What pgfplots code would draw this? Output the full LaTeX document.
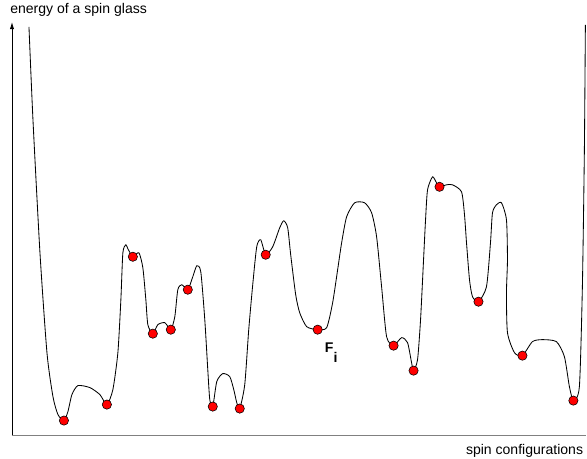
\documentclass[border=0pt]{standalone}
\usepackage{pgfplots}
\pgfplotsset{compat=1.18}
\usepackage{fontspec}
\setmainfont{Liberation Sans}
\usetikzlibrary{arrows.meta}

% energy landscape, traced in picture pixels (y grows downwards)
\pgfplotstableread{
x y
29 27
33 120
40 253
47 353
53 397
58 415
64 421
68 412
72 395
78 386
90 388
100 395
107 405
113 390
118 353
121 300
123 253
126 245
128 249
133 257
139 253
143 268
146 300
148 325
153 334
158 325
165 323
171 330
175 317
178 290
182 285
188 290
193 277
197 266
201 272
205 320
208 370
210 400
213 407
217 382
223 374
230 377
234 390
237 403
240 409
245 385
249 330
253 285
257 247
261 240
266 255
273 247
280 228
284 221
288 228
291 255
296 295
300 313
307 327
318 330
327 328
333 303
338 270
342 243
347 217
355 203
365 203
372 213
377 237
382 287
387 337
394 346
402 338
408 343
412 363
414 371
418 360
421 320
424 260
426 220
428 190
433 177
437 183
440 187
447 185
453 185
462 192
465 215
467 243
470 280
473 297
479 302
487 287
491 243
493 213
497 205
502 203
507 220
508 260
507 293
508 333
515 353
523 356
533 342
543 340
557 342
565 357
570 387
574 401
580 387
583 287
585 150
586 25
}\curve

% local minima
\pgfplotstableread{
x y
64 421
107 405
133 257
153 334
171 330
188 290
213 407
240 409
266 255
318 330
394 346
414 371
440 187
479 302
523 356
574 401
}\minima

\begin{document}
\begin{tikzpicture}
\begin{axis}[
  scale only axis,
  width=14.675cm, height=11.475cm,
  xmin=0, xmax=587, ymin=0, ymax=459,
  y dir=reverse,
  hide axis,
  clip=false,
]
\draw[draw=none] (axis cs:0,0) rectangle (axis cs:587,459);
% axes
\draw[black, line width=0.6pt, -{Latex[length=5pt,width=3pt]}]
  (axis cs:12,436) -- (axis cs:12,22);
\draw[gray, line width=0.9pt] (axis cs:12,436) -- (axis cs:587,436);
\addplot[only marks, mark=*, mark size=3.3pt,
  mark options={fill=red, draw=black, line width=0.4pt}] table {\minima};
\addplot[black, line width=0.6pt, smooth, tension=0.4, no marks] table {\curve};
\node[anchor=base west, font=\fontsize{10}{12}\selectfont, inner sep=0pt]
  at (axis cs:10,14) {energy of a spin glass};
\node[anchor=base east, font=\fontsize{10}{12}\selectfont, inner sep=0pt]
  at (axis cs:584,455) {spin configurations};
\node[anchor=base west, font=\fontsize{10}{12}\selectfont\bfseries, inner sep=0pt]
  at (axis cs:325,353) {F\raisebox{-7pt}{i}};
\end{axis}
\end{tikzpicture}
\end{document}
